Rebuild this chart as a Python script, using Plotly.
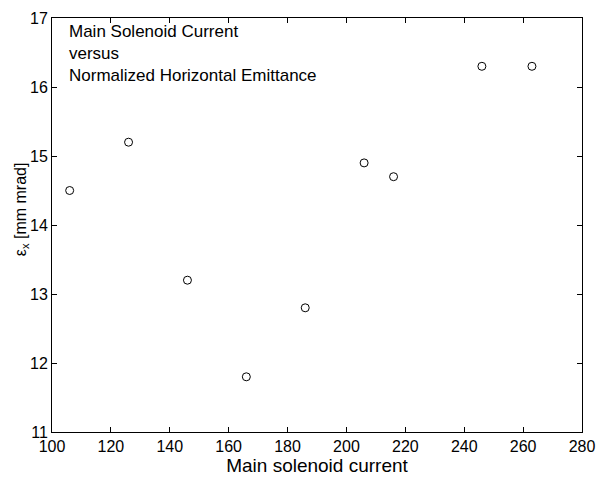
import plotly.graph_objects as go

current = [106, 126, 146, 166, 186, 206, 216, 246, 263]
emittance = [14.5, 15.2, 13.2, 11.8, 12.8, 14.9, 14.7, 16.3, 16.3]
x_ticks = [100, 120, 140, 160, 180, 200, 220, 240, 260, 280]
y_ticks = [11, 12, 13, 14, 15, 16, 17]
note_lines = ["Main Solenoid Current", "versus", "Normalized Horizontal Emittance"]
y_label = "ε<sub>x</sub> [mm mrad]"
x_label = "Main solenoid current"

FONT = "Liberation Sans, Arial, Helvetica, sans-serif"

fig = go.Figure()
fig.add_trace(go.Scatter(
    x=current, y=emittance, mode="markers",
    marker=dict(symbol="circle-open", size=8, color="black", line=dict(width=1, color="black")),
    showlegend=False,
))

fig.update_layout(
    width=605, height=480,
    margin=dict(l=52, r=14, t=10, b=47),
    paper_bgcolor="white", plot_bgcolor="white",
    font=dict(family=FONT, color="black", size=15),
    xaxis=dict(
        range=[100, 280], tickvals=x_ticks, ticktext=[str(v) for v in x_ticks],
        ticks="inside", ticklen=5, tickwidth=1, tickcolor="black",
        showline=True, linecolor="black", linewidth=1, mirror="allticks",
        showgrid=False, zeroline=False,
        tickfont=dict(size=16),
        title=dict(text=x_label, font=dict(size=19), standoff=1),
    ),
    yaxis=dict(
        range=[11, 17], tickvals=y_ticks, ticktext=[str(v) for v in y_ticks],
        ticks="inside", ticklen=5, tickwidth=1, tickcolor="black",
        showline=True, linecolor="black", linewidth=1, mirror="allticks",
        showgrid=False, zeroline=False,
        tickfont=dict(size=16),
    ),
)

fig.add_annotation(
    xref="paper", yref="paper", x=-0.0575, y=0.537, xanchor="center", yanchor="middle",
    text=y_label, textangle=-90, showarrow=False,
    font=dict(size=16, family=FONT),
)

fig.add_annotation(
    xref="paper", yref="paper", x=0.029, y=0.996, xanchor="left", yanchor="top",
    text="<br>".join(note_lines), showarrow=False, align="left",
    font=dict(size=17, family=FONT),
)

fig.write_html("out.html")
